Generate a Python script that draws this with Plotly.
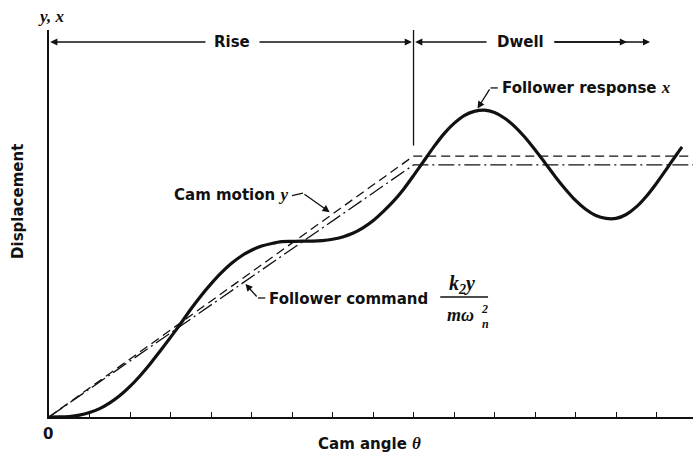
import plotly.graph_objects as go

# Cam angle in tick units (one tick = one unit); rise lasts 9 units, then dwell
theta_response = [0, 0.25, 0.5, 0.75, 1, 1.25, 1.5, 1.75, 2, 2.25, 2.5, 2.75,
                  3, 3.25, 3.5, 3.75, 4, 4.25, 4.5, 4.75, 5, 5.25, 5.5, 5.75,
                  6, 6.25, 6.5, 6.75, 7, 7.25, 7.5, 7.75, 8, 8.25, 8.5, 8.75,
                  9, 9.25, 9.5, 9.75, 10, 10.25, 10.5, 10.75, 11, 11.25, 11.5,
                  11.75, 12, 12.25, 12.5, 12.75, 13, 13.25, 13.5, 13.75, 14,
                  14.25, 14.5, 14.75, 15, 15.25, 15.5, 15.63]
follower_response = [0, 0.0003, 0.002, 0.007, 0.017, 0.032, 0.054, 0.082,
                     0.117, 0.158, 0.204, 0.254, 0.305, 0.358, 0.413, 0.464,
                     0.510, 0.552, 0.588, 0.617, 0.639, 0.655, 0.665, 0.672,
                     0.673, 0.674, 0.674, 0.676, 0.681, 0.690, 0.704, 0.725,
                     0.752, 0.787, 0.826, 0.872, 0.925, 0.980, 1.035, 1.085,
                     1.125, 1.155, 1.171, 1.176, 1.167, 1.145, 1.113, 1.072,
                     1.024, 0.973, 0.921, 0.873, 0.830, 0.796, 0.772, 0.761,
                     0.761, 0.776, 0.805, 0.846, 0.896, 0.951, 1.007, 1.035]

theta_cam = [0, 9, 15.9]
cam_motion = [0, 1.0, 1.0]

theta_command = [0, 9, 15.9]
follower_command = [0, 0.966, 0.966]

tick_positions = list(range(0, 16))

INK = "#111111"
SANS = "DejaVu Sans"
SERIF = "Liberation Serif"

fig = go.Figure()

fig.add_trace(go.Scatter(
    x=theta_cam, y=cam_motion, mode="lines",
    line=dict(color=INK, width=1.3, dash="9px,5px"),
    hoverinfo="skip", showlegend=False))
fig.add_trace(go.Scatter(
    x=theta_command, y=follower_command, mode="lines",
    line=dict(color=INK, width=1.3, dash="16px,4px,2px,4px"),
    hoverinfo="skip", showlegend=False))
fig.add_trace(go.Scatter(
    x=theta_response, y=follower_response, mode="lines",
    line=dict(color=INK, width=3.2, shape="spline", smoothing=0.8),
    hoverinfo="skip", showlegend=False))

def it(s, size=None):
    sz = f"font-size:{size}px;" if size else ""
    return f"<span style=\"font-family:'{SERIF}';{sz}\"><i><b>{s}</b></i></span>"

annos = []
def text(x, y, s, size=15, xanchor="center", yanchor="middle", angle=0,
         family=SANS, ref="x"):
    annos.append(dict(x=x, y=y, xref="x" if ref == "x" else "paper",
                      yref="y" if ref == "x" else "paper",
                      text=s, showarrow=False,
                      xanchor=xanchor, yanchor=yanchor, textangle=angle,
                      font=dict(family=family, size=size, color=INK, weight="bold")))

def arrow(x0, y0, x1, y1, head=2, size=1.1, width=1.3):
    annos.append(dict(x=x1, y=y1, ax=x0, ay=y0, xref="x", yref="y",
                      axref="x", ayref="y", text="", showarrow=True,
                      arrowhead=head, arrowsize=size, arrowwidth=width,
                      arrowcolor=INK, standoff=0, startstandoff=0))

shapes = []
def seg(x0, y0, x1, y1, width=1.3):
    shapes.append(dict(type="line", xref="x", yref="y", x0=x0, y0=y0, x1=x1, y1=y1,
                       line=dict(color=INK, width=width)))

# Axis labels (placed in paper space, outside the plotting area)
text(0.003, 1.034, it("y, x", 17), ref="paper")
text(-0.048, 0.556, "Displacement", angle=-90, ref="paper")
text(0.497, -0.068, "Cam angle " + it("θ", 17), ref="paper")
text(-0.002, -0.044, "0", ref="paper")

# Rise / Dwell span markers
y_span = 1.437
text(4.52, y_span, "Rise")
arrow(3.9, y_span, 0.03, y_span)
arrow(5.16, y_span, 8.96, y_span)
seg(9.0, 1.04, 9.0, 1.483)
text(11.63, y_span, "Dwell")
arrow(10.84, y_span, 9.04, y_span)
arrow(12.44, y_span, 14.84, y_span)
arrow(12.44, y_span, 14.27, y_span)

# Follower response label with hooked leader
text(11.14, 1.261, "Follower response " + it("x", 17), xanchor="left")
seg(11.08, 1.261, 10.9, 1.261)
arrow(10.9, 1.261, 10.58, 1.182)

# Cam motion label
text(5.95, 0.851, "Cam motion " + it("y", 17), xanchor="right")
seg(6.0, 0.848, 6.27, 0.858)
arrow(6.27, 0.858, 6.93, 0.785)

# Follower command label
text(5.38, 0.452, "Follower command", xanchor="left")
seg(5.34, 0.456, 5.16, 0.456)
arrow(5.16, 0.456, 4.85, 0.51)

# k2 y / (m wn^2)
text(10.2, 0.508, it("k<sub>2</sub>y", 20), size=15, family=SERIF)
seg(9.66, 0.46, 10.84, 0.46, width=1.5)
text(10.17, 0.392, it("mω", 18), size=15, family=SERIF)
text(10.74, 0.413, it("2", 12), size=12, family=SERIF)
text(10.77, 0.357, it("n", 12), size=12, family=SERIF)

fig.update_layout(
    width=693, height=452,
    margin=dict(l=49, r=0, t=30, b=35),
    paper_bgcolor="white", plot_bgcolor="white",
    annotations=annos, shapes=shapes,
    xaxis=dict(range=[0, 15.9], showgrid=False, zeroline=False,
               showline=True, linecolor=INK, linewidth=2,
               tickmode="array", tickvals=tick_positions, ticks="inside",
               ticklen=5, tickwidth=1.2, tickcolor=INK, showticklabels=False),
    yaxis=dict(range=[0, 1.483], showgrid=False, zeroline=False,
               showline=True, linecolor=INK, linewidth=2,
               ticks="", showticklabels=False),
)

fig.write_html("out.html")
